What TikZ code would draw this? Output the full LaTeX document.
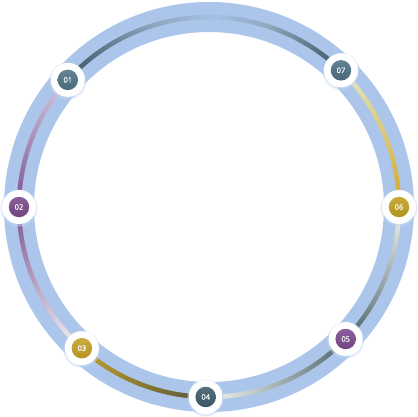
\documentclass[tikz,border=0pt]{standalone}
\usepackage{fontspec}
\setmainfont{Open Sans}
\newfontfamily\numfont[FakeBold=0.4]{Open Sans}
\definecolor{band}{HTML}{ABC6EA}
\definecolor{bandline}{HTML}{A6C1E6}
\definecolor{slate}{HTML}{3B5563}
\definecolor{slatemid}{HTML}{8EA8BF}
\definecolor{cream}{HTML}{E4E8CC}
\definecolor{goldA}{HTML}{D2A828}
\definecolor{goldB}{HTML}{C2A02A}
\definecolor{olive}{HTML}{56563A}
\definecolor{lav}{HTML}{D4CCE0}
\definecolor{purp}{HTML}{7D5290}
\definecolor{whiteA}{HTML}{F6F6F4}
\definecolor{slateB}{HTML}{4B6468}
\definecolor{haloA}{HTML}{DCE8FA}
\definecolor{haloB}{HTML}{C4D8F4}
\definecolor{cA}{HTML}{4E7484}
\definecolor{cB}{HTML}{7A4A8A}
\definecolor{cC}{HTML}{C4A024}
\definecolor{cD}{HTML}{3E5D6B}
\definecolor{cE}{HTML}{7A4A8E}
\definecolor{cF}{HTML}{C0A020}
\definecolor{cG}{HTML}{4D7083}
\pgfdeclareradialshading{haloshade}{\pgfpoint{0bp}{0bp}}{color(0bp)=(white); color(30bp)=(white); color(40bp)=(haloA); color(47bp)=(haloB); color(50bp)=(haloA)}
\newcommand\gradarc[4]{%
  \pgfmathtruncatemacro\nsteps{#2-#1}%
  \foreach \i in {1,...,\nsteps}{%
    \pgfmathsetmacro\aa{#1+(#2-#1)*(\i-1)/\nsteps}%
    \pgfmathsetmacro\bb{#1+(#2-#1)*\i/\nsteps+0.4}%
    \pgfmathtruncatemacro\pc{100*(\i-0.5)/\nsteps}%
    \draw[thinline, color=#4!\pc!#3] (\aa:190) arc[start angle=\aa, end angle=\bb, radius=190];
  }%
}
\tikzset{
  thinline/.style={line width=4.5pt, line cap=butt},
  halo/.style={circle, minimum size=34pt, inner sep=0pt, shading=haloshade},
  haloshadow/.style={circle, minimum size=37pt, inner sep=0pt, fill=haloB, opacity=0.5},
  dot/.style={circle, minimum size=20.5pt, inner sep=0pt, text=white,
    top color=#1!88!white, bottom color=#1!92!black,
    font=\numfont\fontsize{7.5}{8}\selectfont}
}
\begin{document}
\begin{tikzpicture}[x=1pt,y=1pt]
\useasboundingbox (0,0) rectangle (418,416);
\begin{scope}[shift={(209,209)}]
  \draw[band, line width=30pt] (0,0) circle[radius=190];
  % gradient line segments
  \gradarc{0}{46}{goldA}{cream}
  \gradarc{46}{72}{slate}{slatemid}
  \gradarc{72}{88}{slatemid}{bandline}
  \gradarc{88}{106}{bandline}{slatemid}
  \gradarc{106}{138}{slatemid}{slate}
  \gradarc{138}{180}{lav}{purp}
  \gradarc{180}{228}{purp}{whiteA}
  \gradarc{228}{269}{goldB}{olive}
  \gradarc{269}{316}{whiteA}{slateB}
  \gradarc{316}{360}{slateB}{whiteA}
  % nodes
  \foreach \ang/\nm/\col/\txt in {138/1/cA/01, 180/2/cB/02, 228/3/cC/03, 269/4/cD/04, 316/5/cE/05, 0/6/cF/06, 46/7/cG/07}{
    \node[haloshadow] (s\nm) at ([yshift=-1pt]\ang:190) {};
    \node[halo] (h\nm) at (\ang:190) {};
    \node[dot=\col] (n\nm) at (\ang:190) {\txt};
  }
\end{scope}
\end{tikzpicture}
\end{document}
